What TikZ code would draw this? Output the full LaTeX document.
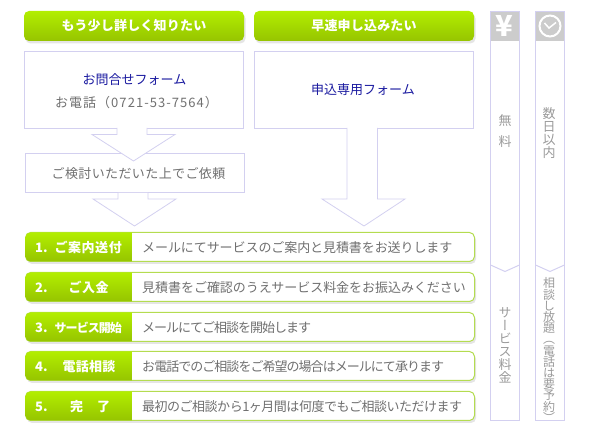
\documentclass[tikz,border=0pt]{standalone}
\usepackage{fontspec}
\setmainfont{Noto Sans CJK JP}
\newfontfamily\vertjp[RawFeature=+vert]{Noto Sans CJK JP}
\usepackage{xcolor}
\usetikzlibrary{shadows}
\definecolor{lavline}{HTML}{D3D0F0}
\definecolor{greentop}{HTML}{B2EE00}
\definecolor{greenbot}{HTML}{96C400}
\definecolor{greenline}{HTML}{B4DC50}
\definecolor{navytext}{HTML}{1A1AA0}
\definecolor{graytext}{HTML}{707070}
\definecolor{coltext}{HTML}{9A9A9A}
\definecolor{greybox}{HTML}{CCCCCC}
\tikzset{
    softshadow/.style={drop shadow={shadow xshift=1.5pt,shadow yshift=-2.5pt,fill=black!25,opacity=0.4}},
    headbox/.style={rounded corners=5pt,minimum width=220pt,minimum height=30pt,inner sep=0pt,
        top color=greentop,bottom color=greenbot,softshadow,text=white,font=\fontsize{13}{15}\selectfont\bfseries},
    formbox/.style={draw=lavline,line width=1pt,fill=white,minimum width=219pt,inner sep=0pt},
    formtext/.style={text=navytext,inner sep=0pt,font=\fontsize{13}{15}\selectfont},
    greytext/.style={text=graytext,inner sep=0pt,font=\fontsize{13}{15}\selectfont},
    bigarrow/.style={draw=lavline,line width=0.8pt,fill=white,line join=miter},
    stepbox/.style={draw=greenline,line width=1pt,fill=white,rounded corners=5pt,minimum width=449pt,minimum height=29pt,inner sep=0pt,softshadow},
    stepgreen/.style={top color=greentop,bottom color=greenbot},
    steplabel/.style={anchor=west,inner sep=0pt,text=white,font=\fontsize{13}{15}\selectfont\bfseries},
    steptext/.style={greytext,anchor=west},
    colline/.style={draw=lavline,line width=1pt},
    coltop/.style={fill=greybox,draw=none,minimum width=29pt,minimum height=30pt,inner sep=0pt},
    coltitle/.style={text=coltext,inner sep=0pt,align=center,font=\vertjp\fontsize{13}{13}\selectfont},
}
\begin{document}
\begin{tikzpicture}[x=1pt,y=-1pt]
    \useasboundingbox (0,0) rectangle (590,435);

    % two routes at the top
    \node[headbox] (head1) at (134,26) {\addfontfeature{LetterSpace=1.5}もう少し詳しく知りたい};
    \node[headbox] (head2) at (364,26) {\addfontfeature{LetterSpace=1.5}早速申し込みたい};

    \node[formbox,minimum height=77pt] (form1) at (134,90) {};
    \node[formbox,minimum height=77pt] (form2) at (364,90) {};
    \node[formbox,minimum height=39.5pt] (form3) at (135,173.2) {};

    \node[formtext] (mail1) at (134.5,79.5) {お問合せフォーム};
    \node[greytext] (tel1) at (136.5,102.5) {\addfontfeature{LetterSpace=8}お電話（0721-53-7564）};
    \node[greytext] (req1) at (138.5,173.5) {\addfontfeature{LetterSpace=3}ご検討いただいた上でご依頼};
    \node[formtext] (mail2) at (363,89.5) {申込専用フォーム};

    % block arrows
    \draw[bigarrow] (117,128) -- (117,134.5) -- (92,134.5) -- (133.5,161) -- (175,134.5) -- (147,134.5) -- (147,128);
    \draw[bigarrow] (118,193) -- (118,199) -- (93,199) -- (134.5,226) -- (176,199) -- (148,199) -- (148,193);
    \draw[bigarrow] (347,128) -- (347,199) -- (322,199) -- (364,226) -- (405,199) -- (377.5,199) -- (377.5,128);

    % steps
    \node[stepbox] (step1) at (250,247) {};
    \shade[stepgreen] (132.5,232.5) [rounded corners=5pt] -- (25.5,232.5) -- (25.5,261.5) [sharp corners] -- (132.5,261.5) -- cycle;
    \node[steplabel] (num1) at (35,247.5) {1.\hspace{7pt}\addfontfeature{LetterSpace=4}ご案内送付};
    \node[steptext] (text1) at (142,247.5) {\addfontfeature{LetterSpace=-0.6}メールにてサービスのご案内と見積書をお送りします};

    \node[stepbox] (step2) at (250,287) {};
    \shade[stepgreen] (132.5,272.5) [rounded corners=5pt] -- (25.5,272.5) -- (25.5,301.5) [sharp corners] -- (132.5,301.5) -- cycle;
    \node[steplabel] (num2) at (35,287.5) {2.\hspace{21pt}\addfontfeature{LetterSpace=4}ご入金};
    \node[steptext] (text2) at (142,287.5) {\addfontfeature{LetterSpace=-0.3}見積書をご確認のうえサービス料金をお振込みください};

    \node[stepbox] (step3) at (250,327) {};
    \shade[stepgreen] (132.5,312.5) [rounded corners=5pt] -- (25.5,312.5) -- (25.5,341.5) [sharp corners] -- (132.5,341.5) -- cycle;
    \node[steplabel] (num3) at (35,327.5) {3.\hspace{7pt}\fontsize{12}{15}\selectfont\addfontfeature{LetterSpace=-8}サービス開始};
    \node[steptext] (text3) at (142,327.5) {\addfontfeature{LetterSpace=-7.7}メールにてご相談を開始します};

    \node[stepbox] (step4) at (250,366) {};
    \shade[stepgreen] (132.5,351.5) [rounded corners=5pt] -- (25.5,351.5) -- (25.5,380.5) [sharp corners] -- (132.5,380.5) -- cycle;
    \node[steplabel] (num4) at (35,366.5) {4.\hspace{15pt}\addfontfeature{LetterSpace=2}電話相談};
    \node[steptext] (text4) at (142,366.5) {\addfontfeature{LetterSpace=-7.4}お電話でのご相談をご希望の場合はメールにて承ります};

    \node[stepbox] (step5) at (250,406) {};
    \shade[stepgreen] (132.5,391.5) [rounded corners=5pt] -- (25.5,391.5) -- (25.5,420.5) [sharp corners] -- (132.5,420.5) -- cycle;
    \node[steplabel] (num5) at (35,406.5) {5.\hspace{22.5pt}完\hspace{14pt}了};
    \node[steptext] (text5) at (142,406.5) {\addfontfeature{LetterSpace=-3.8}最初のご相談から1ヶ月間は何度でもご相談いただけます};

    % right columns
    \node[coltop] (yenbox) at (505,26) {};
    \node[coltop] (clockbox) at (550,26) {};
    \draw[colline] (490.5,11.5) rectangle (519.5,420.5);
    \draw[colline] (535.5,11.5) rectangle (564.5,420.5);
    \draw[colline] (490.5,265) -- (505,271.5) -- (519.5,265);
    \draw[colline] (535.5,265) -- (550,271.5) -- (564.5,265);
    \node[inner sep=0pt,text=white,font=\fontsize{29}{29}\selectfont\bfseries] (yen) at (504.5,26) {¥};
    \node[circle,draw=white,line width=2pt,minimum size=21pt,inner sep=0pt] (clock) at (550,26) {};
    \draw[white,line width=1.5pt] (544.5,23) -- (549,28) -- (556,22.5);

    \node[coltitle] (free) at (505,131.5) {無\\[8pt]料};
    \node[coltitle] (days) at (549,133) {数\\日\\以\\内};
    \node[coltitle] (fee) at (505,345) {サ\\ー\\ビ\\ス\\料\\金};
    \node[coltitle,font=\vertjp\fontsize{12}{11.2}\selectfont] (talk) at (549,350) {相\\談\\し\\放\\題\\（\\電\\話\\は\\要\\予\\約\\）};
\end{tikzpicture}
\end{document}
